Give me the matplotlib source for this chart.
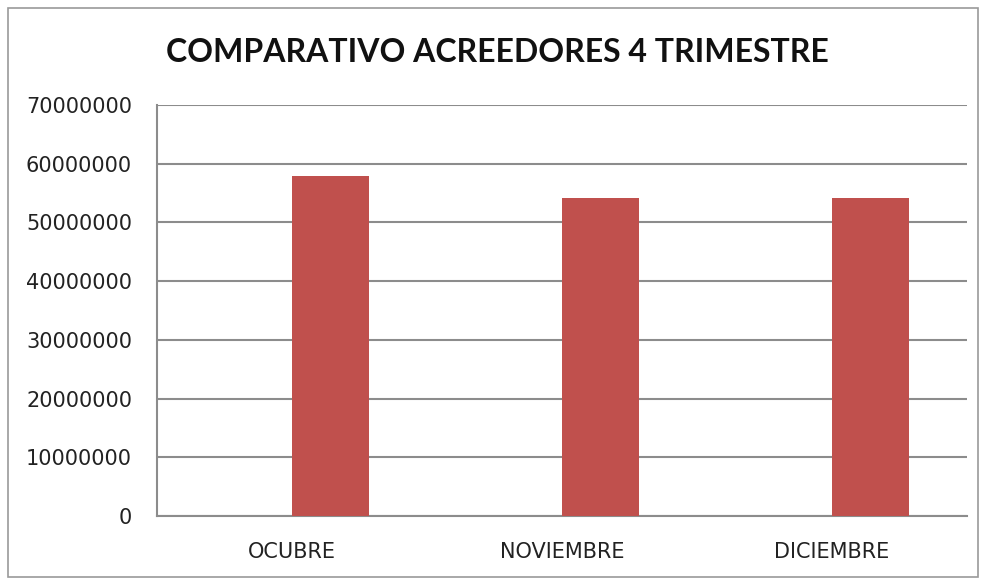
import matplotlib.pyplot as plt
from matplotlib.patches import Rectangle

# Datos del gráfico
meses = ["OCUBRE", "NOVIEMBRE", "DICIEMBRE"]
acreedores = [57900000, 54100000, 54100000]
y_ticks = [0, 10000000, 20000000, 30000000, 40000000, 50000000, 60000000, 70000000]

fig = plt.figure(figsize=(9.85, 5.8), dpi=100)
ax = fig.add_axes([0.1594, 0.1103, 0.8223, 0.7086])

x = list(range(len(meses)))
# Excel deja la primera serie vacía: la barra empieza en el centro de la categoría
ax.bar(x, acreedores, width=0.2857, align='edge', color='#C0504D', zorder=3)

ax.set_xlim(-0.5, 2.5)
ax.set_ylim(0, 70000000)
ax.set_yticks(y_ticks)
ax.set_yticklabels([str(v) for v in y_ticks], fontsize=15, color='#222222')
ax.set_xticks(x)
ax.set_xticklabels(meses, fontsize=15, color='#222222')
ax.tick_params(axis='both', length=0)
ax.tick_params(axis='y', pad=18)
ax.tick_params(axis='x', pad=19)

ax.grid(axis='y', color='#8c8c8c', linewidth=1.5, zorder=0)
for s in ['top', 'right']:
    ax.spines[s].set_visible(False)
ax.spines['left'].set_color('#8c8c8c')
ax.spines['left'].set_linewidth(1.5)
ax.spines['bottom'].set_color('#8c8c8c')
ax.spines['bottom'].set_linewidth(1.5)

fig.text(0.505, 0.91, "COMPARATIVO ACREEDORES 4 TRIMESTRE", ha='center', va='center',
         fontsize=23, fontweight='bold', family=['Lato', 'DejaVu Sans'], color='#111111')

# Marco exterior del gráfico
fig.patches.append(Rectangle((0.008, 0.005), 0.985, 0.982, transform=fig.transFigure,
                             fill=False, edgecolor='#9a9a9a', linewidth=1.2))

fig.savefig('out.png', dpi=100)
